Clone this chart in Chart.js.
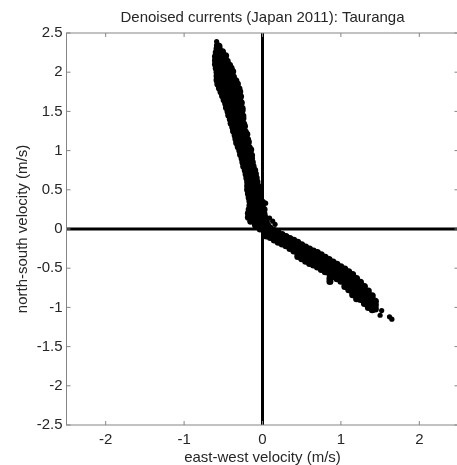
<!DOCTYPE html>
<html><head><meta charset="utf-8">
<script src="https://cdn.jsdelivr.net/npm/chart.js@4"></script>
<style>html,body{margin:0;padding:0;overflow:hidden;background:#fff;width:457px;height:465px}canvas{display:block}</style>
</head>
<body><canvas id="c" width="462" height="465" style="width:462px;height:465px"></canvas>
<script>
const chartTitle = 'Denoised currents (Japan 2011): Tauranga';
const xAxisTitle = 'east-west velocity (m/s)';
const yAxisTitle = 'north-south velocity (m/s)';
const xTicks = [-2, -1, 0, 1, 2];
const yTicks = [-2.5, -2, -1.5, -1, -0.5, 0, 0.5, 1, 1.5, 2, 2.5];

// [east-west, north-south] velocity samples
const upperBranch = [
[-0.575,2.34],[-0.555,2.33],
[-0.58,2.30],[-0.55,2.29],
[-0.59,2.25],[-0.55,2.25],[-0.51,2.26],
[-0.60,2.20],[-0.56,2.21],[-0.51,2.20],[-0.47,2.21],
[-0.60,2.15],[-0.55,2.16],[-0.50,2.15],[-0.45,2.14],
[-0.60,2.10],[-0.55,2.10],[-0.50,2.11],[-0.45,2.10],[-0.42,2.09],
[-0.59,2.05],[-0.54,2.04],[-0.49,2.05],[-0.44,2.06],[-0.40,2.05],
[-0.58,2.00],[-0.53,2.01],[-0.48,1.99],[-0.43,2.00],[-0.38,2.01],
[-0.58,1.95],[-0.53,1.94],[-0.48,1.96],[-0.43,1.95],[-0.37,1.94],
[-0.58,1.90],[-0.53,1.91],[-0.48,1.89],[-0.43,1.90],[-0.38,1.91],[-0.34,1.89],
[-0.57,1.85],[-0.52,1.84],[-0.47,1.86],[-0.42,1.85],[-0.37,1.84],[-0.32,1.85],
[-0.55,1.80],[-0.50,1.81],[-0.45,1.79],[-0.40,1.80],[-0.35,1.81],[-0.30,1.79],
[-0.53,1.75],[-0.48,1.74],[-0.43,1.76],[-0.38,1.75],[-0.33,1.74],[-0.29,1.75],
[-0.51,1.70],[-0.46,1.71],[-0.41,1.69],[-0.36,1.70],[-0.31,1.71],[-0.28,1.69],
[-0.49,1.65],[-0.44,1.64],[-0.39,1.66],[-0.34,1.65],[-0.29,1.64],
[-0.47,1.60],[-0.42,1.61],[-0.37,1.59],[-0.32,1.60],[-0.27,1.61],
[-0.46,1.55],[-0.41,1.54],[-0.36,1.56],[-0.31,1.55],[-0.26,1.54],
[-0.44,1.50],[-0.40,1.51],[-0.35,1.49],[-0.30,1.50],[-0.26,1.51],
[-0.43,1.45],[-0.38,1.44],[-0.34,1.46],[-0.29,1.45],[-0.25,1.44],
[-0.41,1.40],[-0.37,1.41],[-0.33,1.39],[-0.29,1.40],[-0.25,1.41],
[-0.40,1.35],[-0.36,1.34],[-0.32,1.36],[-0.28,1.35],[-0.24,1.34],
[-0.38,1.30],[-0.34,1.31],[-0.30,1.29],[-0.26,1.30],[-0.23,1.31],
[-0.37,1.25],[-0.33,1.24],[-0.29,1.26],[-0.25,1.25],[-0.22,1.24],
[-0.35,1.20],[-0.31,1.21],[-0.27,1.19],[-0.23,1.20],[-0.20,1.21],
[-0.34,1.15],[-0.30,1.14],[-0.26,1.16],[-0.22,1.15],[-0.19,1.14],
[-0.33,1.10],[-0.29,1.11],[-0.25,1.09],[-0.21,1.10],[-0.18,1.11],
[-0.31,1.05],[-0.27,1.04],[-0.23,1.06],[-0.19,1.05],[-0.17,1.04],
[-0.29,1.00],[-0.25,1.01],[-0.21,0.99],[-0.17,1.00],[-0.15,1.01],
[-0.28,0.95],[-0.24,0.94],[-0.20,0.96],[-0.16,0.95],[-0.14,0.94],
[-0.26,0.90],[-0.22,0.91],[-0.18,0.89],[-0.14,0.90],
[-0.25,0.85],[-0.21,0.84],[-0.17,0.86],[-0.13,0.85],
[-0.24,0.80],[-0.20,0.81],[-0.16,0.79],[-0.12,0.80],
[-0.22,0.75],[-0.18,0.74],[-0.14,0.76],[-0.10,0.75],
[-0.21,0.70],[-0.17,0.71],[-0.13,0.69],[-0.09,0.70],
[-0.20,0.65],[-0.16,0.64],[-0.12,0.66],[-0.08,0.65],
[-0.19,0.60],[-0.15,0.61],[-0.11,0.59],[-0.07,0.60],
[-0.19,0.55],[-0.15,0.54],[-0.11,0.56],[-0.06,0.55],
[-0.19,0.50],[-0.14,0.51],[-0.10,0.49],[-0.05,0.50],
[-0.18,0.45],[-0.14,0.44],[-0.09,0.46],[-0.04,0.45],
[-0.17,0.40],[-0.12,0.41],[-0.07,0.39],[-0.03,0.40],
[-0.16,0.35],[-0.11,0.34],[-0.07,0.36],[-0.03,0.35],[0.00,0.34],
[-0.16,0.30],[-0.12,0.31],[-0.08,0.29],[-0.04,0.30],[0.00,0.31],
[-0.17,0.25],[-0.13,0.24],[-0.09,0.26],[-0.05,0.25],[-0.01,0.24],[0.02,0.25],
[-0.18,0.20],[-0.14,0.21],[-0.10,0.19],[-0.06,0.20],[-0.02,0.21],[0.02,0.19],
[-0.18,0.15],[-0.14,0.14],[-0.10,0.16],[-0.06,0.15],[-0.02,0.14],[0.03,0.15],
[-0.15,0.10],[-0.11,0.11],[-0.07,0.09],[-0.03,0.10],[0.01,0.11],[0.05,0.09],
[-0.09,0.05],[-0.05,0.04],[-0.01,0.06],[0.03,0.05],[0.07,0.04],
[-0.03,0.00],[0.01,0.01],[0.05,-0.01],[0.09,0.00]
];

const lowerBranch = [
[0.05,0.03],[0.05,-0.01],[0.05,-0.05],[0.05,-0.09],
[0.10,0.01],[0.10,-0.03],[0.10,-0.07],[0.10,-0.11],
[0.15,-0.02],[0.15,-0.06],[0.15,-0.10],[0.15,-0.14],
[0.20,-0.045],[0.20,-0.09],[0.20,-0.13],[0.20,-0.17],
[0.25,-0.07],[0.25,-0.11],[0.25,-0.15],[0.25,-0.19],
[0.30,-0.095],[0.30,-0.135],[0.30,-0.175],[0.30,-0.215],
[0.35,-0.12],[0.35,-0.16],[0.35,-0.20],[0.35,-0.25],
[0.40,-0.145],[0.40,-0.19],[0.40,-0.23],[0.40,-0.28],
[0.45,-0.17],[0.45,-0.215],[0.45,-0.26],[0.45,-0.31],[0.45,-0.35],
[0.50,-0.20],[0.50,-0.245],[0.50,-0.29],[0.50,-0.34],[0.50,-0.38],
[0.55,-0.23],[0.55,-0.275],[0.55,-0.32],[0.55,-0.37],[0.55,-0.41],
[0.60,-0.255],[0.60,-0.30],[0.60,-0.35],[0.60,-0.40],[0.60,-0.44],
[0.65,-0.28],[0.65,-0.325],[0.65,-0.37],[0.65,-0.42],[0.65,-0.46],
[0.70,-0.30],[0.70,-0.345],[0.70,-0.39],[0.70,-0.44],[0.70,-0.485],
[0.75,-0.33],[0.75,-0.375],[0.75,-0.42],[0.75,-0.47],[0.75,-0.515],
[0.80,-0.36],[0.80,-0.405],[0.80,-0.45],[0.80,-0.50],[0.80,-0.545],
[0.85,-0.39],[0.85,-0.435],[0.85,-0.48],[0.85,-0.53],[0.86,-0.58],[0.86,-0.63],[0.86,-0.67],
[0.90,-0.42],[0.90,-0.465],[0.90,-0.51],[0.90,-0.56],[0.90,-0.605],
[0.95,-0.45],[0.95,-0.495],[0.95,-0.54],[0.95,-0.59],[0.95,-0.635],
[1.00,-0.48],[1.00,-0.525],[1.00,-0.57],[1.00,-0.62],[1.00,-0.665],
[1.05,-0.51],[1.05,-0.555],[1.05,-0.60],[1.05,-0.65],[1.05,-0.69],[1.05,-0.735],
[1.10,-0.545],[1.10,-0.59],[1.10,-0.635],[1.10,-0.68],[1.10,-0.73],[1.10,-0.775],
[1.15,-0.58],[1.15,-0.625],[1.15,-0.67],[1.15,-0.715],[1.15,-0.76],[1.15,-0.80],[1.15,-0.84],
[1.20,-0.63],[1.20,-0.675],[1.20,-0.72],[1.20,-0.765],[1.20,-0.81],[1.20,-0.85],[1.20,-0.89],
[1.25,-0.68],[1.25,-0.725],[1.25,-0.77],[1.25,-0.815],[1.25,-0.86],[1.25,-0.90],
[1.30,-0.735],[1.30,-0.78],[1.30,-0.825],[1.30,-0.87],[1.30,-0.915],[1.30,-0.95],
[1.35,-0.79],[1.35,-0.835],[1.35,-0.88],[1.35,-0.925],[1.35,-0.97],[1.35,-1.00],
[1.40,-0.85],[1.40,-0.895],[1.40,-0.94],[1.40,-0.985],[1.40,-1.03],
[1.44,-0.92],[1.44,-0.97],[1.44,-1.02]
];

const strayPoints = [
[-0.585,2.39],
[0.04,0.33],[0.09,0.14],[0.13,0.10],[0.16,0.06],
[1.52,-1.04],[1.50,-1.10],[1.62,-1.12],[1.65,-1.15]
];

const textColor = '#262626';
const frameColor = '#858585';

const axesDecor = {
  id: 'axesDecor',
  beforeDatasetsDraw(chart) {
    const {ctx, chartArea: a, scales: {x, y}} = chart;
    const x0 = x.getPixelForValue(0), y0 = y.getPixelForValue(0);
    ctx.save();
    ctx.strokeStyle = '#000';
    ctx.lineWidth = 3;
    ctx.beginPath();
    ctx.moveTo(x0, a.top); ctx.lineTo(x0, a.bottom);
    ctx.moveTo(a.left, y0); ctx.lineTo(a.right, y0);
    ctx.stroke();
    ctx.restore();
  },
  afterDatasetsDraw(chart) {
    const {ctx, chartArea: a, scales: {x, y}} = chart;
    ctx.save();
    ctx.strokeStyle = frameColor;
    ctx.lineWidth = 1;
    ctx.strokeRect(a.left, a.top, a.right - a.left, a.bottom - a.top);
    ctx.beginPath();
    xTicks.forEach(v => {
      const p = x.getPixelForValue(v);
      ctx.moveTo(p, a.bottom); ctx.lineTo(p, a.bottom - 4);
      ctx.moveTo(p, a.top); ctx.lineTo(p, a.top + 4);
    });
    yTicks.forEach(v => {
      const p = y.getPixelForValue(v);
      ctx.moveTo(a.left, p); ctx.lineTo(a.left + 4, p);
      ctx.moveTo(a.right, p); ctx.lineTo(a.right - 4, p);
    });
    ctx.stroke();
    ctx.restore();
  }
};

const toXY = arr => arr.map(([x, y]) => ({x, y}));
const fontFamily = '"Liberation Sans", Arial, sans-serif';
const dot = r => ({backgroundColor: '#000', borderColor: '#000', borderWidth: 0, pointRadius: r, pointHoverRadius: r});

new Chart(document.getElementById('c'), {
  type: 'scatter',
  data: {
    datasets: [
      Object.assign({label: 'upper', data: toXY(upperBranch)}, dot(3.5)),
      Object.assign({label: 'lower', data: toXY(lowerBranch)}, dot(3.5)),
      Object.assign({label: 'stray', data: toXY(strayPoints)}, dot(2.6))
    ]
  },
  options: {
    responsive: false,
    animation: false,
    devicePixelRatio: 1,
    layout: {padding: {left: 0, right: 3, top: 0, bottom: 0}},
    plugins: {
      legend: {display: false},
      tooltip: {enabled: false},
      title: {
        display: true, text: chartTitle, color: textColor, fullSize: false,
        font: {family: fontFamily, size: 15, weight: 'normal', lineHeight: 1.2},
        padding: {top: 8.5, bottom: 6.5}
      }
    },
    scales: {
      x: {
        type: 'linear', min: -2.5, max: 2.5,
        afterBuildTicks: s => { s.ticks = xTicks.map(v => ({value: v})); },
        afterFit: s => { s.height = 40; },
        grid: {display: false, drawTicks: false},
        border: {display: false},
        ticks: {color: textColor, padding: 6, maxRotation: 0, autoSkip: false,
          callback: v => String(v), font: {family: fontFamily, size: 15}},
        title: {display: true, text: xAxisTitle, color: textColor, padding: 0,
          font: {family: fontFamily, size: 15, lineHeight: 1}}
      },
      y: {
        type: 'linear', min: -2.5, max: 2.5,
        afterBuildTicks: s => { s.ticks = yTicks.map(v => ({value: v})); },
        afterFit: s => { s.width = 66.5; },
        grid: {display: false, drawTicks: false},
        border: {display: false},
        ticks: {color: textColor, padding: 4, autoSkip: false,
          callback: v => String(v), font: {family: fontFamily, size: 15}},
        title: {display: true, text: yAxisTitle, color: textColor, padding: {top: 13.5, bottom: 0},
          font: {family: fontFamily, size: 15, lineHeight: 1.2}}
      }
    }
  },
  plugins: [axesDecor]
});
</script>
</body></html>
